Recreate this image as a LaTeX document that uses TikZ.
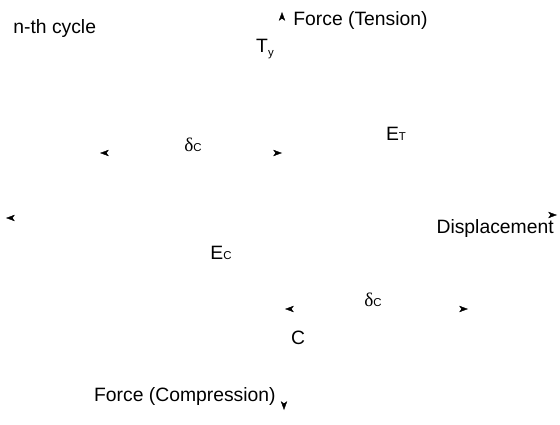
\documentclass[tikz,border=0pt]{standalone}
\usepackage{fontspec}
\setmainfont{Liberation Sans}
\newfontfamily\greekfont{Liberation Serif}
\usetikzlibrary{arrows.meta}
\newcommand{\lowsub}[1]{{\fontsize{6.5}{7}\selectfont #1}}

\begin{document}
\begin{tikzpicture}[
    x=0.02cm, y=-0.02cm,
    font=\fontsize{11}{13}\selectfont,
    lbl/.style={inner sep=0pt},
    tip/.style={-{Stealth[length=5pt, width=3.6pt, inset=1.3pt]}, line width=0.2pt, draw=black}
]
\useasboundingbox (0,0) rectangle (560,425);

% 1. Title
\node[lbl, anchor=west] (cycle) at (13,29) {n-th cycle};

% 2. Axis arrowheads and axis labels
\coordinate (tensTail) at (282,19);  \coordinate (tensTip) at (282,12);
\coordinate (compTail) at (284,403); \coordinate (compTip) at (284,410);
\coordinate (leftTail) at (13,218);  \coordinate (leftTip) at (6,218);
\coordinate (rightTail) at (550,215); \coordinate (rightTip) at (557,215);
\draw[tip] (tensTail) -- (tensTip);
\draw[tip] (compTail) -- (compTip);
\draw[tip] (leftTail) -- (leftTip);
\draw[tip] (rightTail) -- (rightTip);

\node[lbl, anchor=west] (tension) at (293,21) {Force (Tension)};
\node[lbl, anchor=east] (compression) at (276,396) {Force (Compression)};
\node[lbl, anchor=east] (displ) at (554,229) {Displacement};

% -- Tension branch --
\node[lbl] (ty) at (265,49) {T\raisebox{-0.35ex}{\lowsub{y}}};
\node[lbl] (et) at (396,134) {E\lowsub{T}};
\node[lbl] (dUp) at (193,145) {{\greekfont δ}\lowsub{C}};
\coordinate (dUpL0) at (107,153); \coordinate (dUpL) at (100,153);
\coordinate (dUpR0) at (275,153); \coordinate (dUpR) at (282,153);
\draw[tip] (dUpL0) -- (dUpL);
\draw[tip] (dUpR0) -- (dUpR);

% -- Compression branch --
\node[lbl] (ec) at (221,253) {E\lowsub{C}};
\node[lbl] (dLow) at (373,300) {{\greekfont δ}\lowsub{C}};
\coordinate (dLowL0) at (292,309); \coordinate (dLowL) at (285,309);
\coordinate (dLowR0) at (461,309); \coordinate (dLowR) at (468,309);
\draw[tip] (dLowL0) -- (dLowL);
\draw[tip] (dLowR0) -- (dLowR);
\node[lbl] (cpt) at (298,338) {C};

\end{tikzpicture}
\end{document}
